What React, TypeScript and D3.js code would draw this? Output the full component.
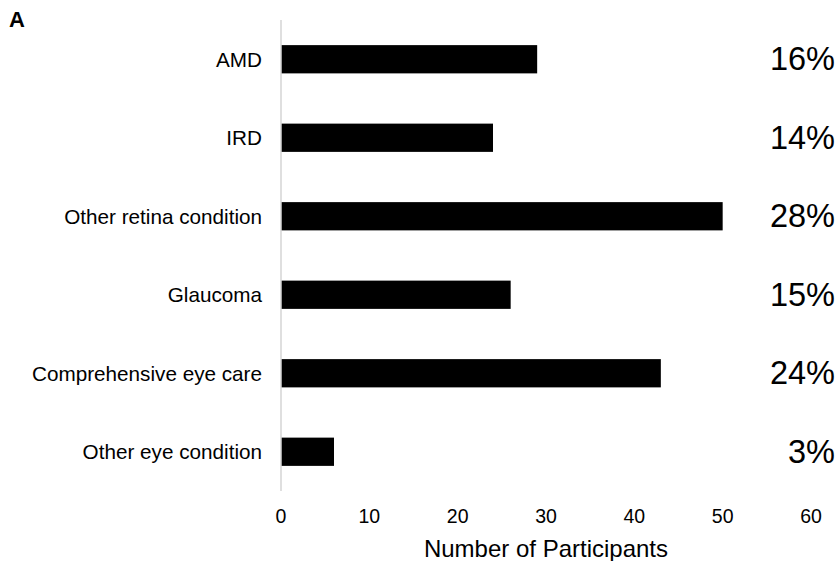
import React from "react";
import * as d3 from "d3";

const categories = [
  "AMD",
  "IRD",
  "Other retina condition",
  "Glaucoma",
  "Comprehensive eye care",
  "Other eye condition",
];
const participants = [29, 24, 50, 26, 43, 6];
const percentLabels = ["16%", "14%", "28%", "15%", "24%", "3%"];
const xTicks = [0, 10, 20, 30, 40, 50, 60];
const xTitle = "Number of Participants";
const panelLabel = "A";

const W = 837;
const H = 561;
const FONT = "Arial, 'Liberation Sans', Helvetica, sans-serif";

export default function App() {
  const x = d3.scaleLinear().domain([0, 60]).range([281, 811]);
  const y = d3
    .scaleBand<string>()
    .domain(categories)
    .range([20, 491])
    .paddingInner(0.64)
    .paddingOuter(0.32);

  return (
    <svg
      width={W}
      height={H}
      viewBox={`0 0 ${W} ${H}`}
      style={{ position: "absolute", left: 0, top: 0, background: "#fff" }}
      fontFamily={FONT}
    >
      <rect x={0} y={0} width={W} height={H} fill="#fff" />
      <text x={9} y={27} fontSize={22} fontWeight="bold" fill="#000">
        {panelLabel}
      </text>

      {/* bars */}
      {categories.map((c, i) => (
        <rect
          key={c}
          x={x(0)}
          y={y(c)!}
          width={x(participants[i]) - x(0)}
          height={y.bandwidth()}
          fill="#000"
        />
      ))}

      {/* vertical axis line */}
      <line
        x1={x(0)}
        x2={x(0)}
        y1={y.range()[0]}
        y2={y.range()[1]}
        stroke="#d4d4d4"
        strokeWidth={1.5}
      />

      {/* category labels */}
      {categories.map((c) => (
        <text
          key={c}
          x={262}
          y={y(c)! + y.bandwidth() / 2}
          textAnchor="end"
          dominantBaseline="central"
          fontSize={20.7}
          fill="#000"
        >
          {c}
        </text>
      ))}

      {/* percent labels */}
      {categories.map((c, i) => (
        <text
          key={c}
          x={835}
          y={y(c)! + y.bandwidth() / 2}
          textAnchor="end"
          dominantBaseline="central"
          fontSize={32.5}
          fill="#000"
        >
          {percentLabels[i]}
        </text>
      ))}

      {/* x tick labels */}
      {xTicks.map((t) => (
        <text
          key={t}
          x={x(t)}
          y={516}
          textAnchor="middle"
          dominantBaseline="central"
          fontSize={19.5}
          fill="#000"
        >
          {t}
        </text>
      ))}

      <text
        x={546}
        y={548}
        textAnchor="middle"
        dominantBaseline="central"
        fontSize={24}
        fill="#000"
      >
        {xTitle}
      </text>
    </svg>
  );
}
